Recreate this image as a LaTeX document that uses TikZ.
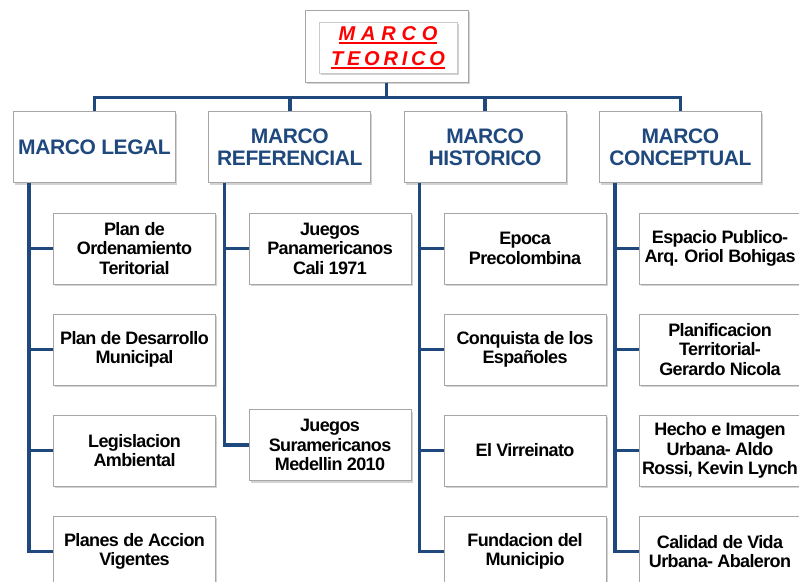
\documentclass[tikz,border=0pt]{standalone}
\usepackage{fontspec}
\setmainfont{Liberation Sans}
\newfontfamily\tightsans[LetterSpace=-2.0]{Liberation Sans}
\newfontfamily\tightersans[LetterSpace=-3.5]{Liberation Sans}
\newfontfamily\widesans[LetterSpace=19.0]{Liberation Sans}
\newfontfamily\widersans[LetterSpace=29.0]{Liberation Sans}
\usetikzlibrary{positioning,shadows}
\definecolor{lineblue}{RGB}{31,73,125}
\definecolor{boxgray}{RGB}{166,166,166}
\newcommand\redline[1]{\leavevmode\vtop{\hbox{#1}\kern1.5pt\hrule height 2pt}}

\begin{document}
\begin{tikzpicture}[x=1pt, y=-1pt, node distance=195.3pt]
\tikzstyle{boxshadow}=[drop shadow={shadow xshift=1.5pt, shadow yshift=-2pt, opacity=0.35}]
\tikzstyle{boxframe}=[draw=boxgray, fill=white, line width=1pt, boxshadow, inner sep=0pt]
\tikzstyle{catbox}=[boxframe, minimum width=162pt, minimum height=71pt, align=center, text=lineblue, font=\tightsans\bfseries\fontsize{21}{22}\selectfont]
\tikzstyle{subbox}=[boxframe, minimum width=162pt, minimum height=71pt, align=center, font=\tightersans\bfseries\fontsize{18}{19.5}\selectfont]
\tikzstyle{link}=[draw=lineblue, line width=3.5pt]
\useasboundingbox (0,0) rectangle (799,581);

\node[boxframe, minimum width=163pt, minimum height=72pt] (T) at (386.5,46) {};
\node[boxframe, draw=boxgray!60, minimum width=138pt, minimum height=51pt, align=center, text=red, font=\bfseries\itshape\fontsize{20}{25}\selectfont] (TT) at (388,47.5) {\widersans\redline{MARCO}\\\widesans\redline{TEORICO}};

\node[catbox] (L) at (94.5,147) {MARCO LEGAL};
\node[catbox] (R)[right of=L] {MARCO\\REFERENCIAL};
\node[catbox] (H)[right of=R] {MARCO\\HISTORICO};
\node[catbox] (C)[right of=H] {MARCO\\CONCEPTUAL};

\begin{scope}[node distance=101pt]
\node[subbox] (L1) at (134.5,248.5) {Plan de\\Ordenamiento\\Teritorial};
\node[subbox] (L2)[below of=L1] {Plan de Desarrollo\\Municipal};
\node[subbox] (L3)[below of=L2] {Legislacion\\Ambiental};
\node[subbox] (L4)[below of=L3] {Planes de Accion\\Vigentes};
\node[subbox] (R1) at (330,248.5) {Juegos\\Panamericanos\\Cali 1971};
\node[subbox] (R2) at (330,445) {Juegos\\Suramericanos\\Medellin 2010};
\node[subbox] (H1) at (525,248.5) {Epoca\\Precolombina};
\node[subbox] (H2)[below of=H1] {Conquista de los\\Españoles};
\node[subbox] (H3)[below of=H2] {El Virreinato};
\node[subbox] (H4)[below of=H3] {Fundacion del\\Municipio};
\node[subbox] (C1) at (720,248.5) {Espacio Publico-\\Arq. Oriol Bohigas};
\node[subbox] (C2)[below of=C1] {Planificacion\\Territorial-\\Gerardo Nicola};
\node[subbox] (C3)[below of=C2] {Hecho e Imagen\\Urbana- Aldo\\Rossi, Kevin Lynch};
\node[subbox] (C4)[below of=C3] {Calidad de Vida\\Urbana- Abaleron};
\end{scope}

\draw[link] (T.south) -- ++(0,15) -| (L.north);
\draw[link] (T.south) -- ++(0,15) -| (R.north);
\draw[link] (T.south) -- ++(0,15) -| (H.north);
\draw[link] (T.south) -- ++(0,15) -| (C.north);

\draw[link] ([xshift=16pt]L.south west) |- (L1.west);
\draw[link] ([xshift=16pt]L.south west) |- (L2.west);
\draw[link] ([xshift=16pt]L.south west) |- (L3.west);
\draw[link] ([xshift=16pt]L.south west) |- (L4.west);
\draw[link] ([xshift=16pt]R.south west) |- (R1.west);
\draw[link] ([xshift=16pt]R.south west) |- (R2.west);
\draw[link] ([xshift=16pt]H.south west) |- (H1.west);
\draw[link] ([xshift=16pt]H.south west) |- (H2.west);
\draw[link] ([xshift=16pt]H.south west) |- (H3.west);
\draw[link] ([xshift=16pt]H.south west) |- (H4.west);
\draw[link] ([xshift=16pt]C.south west) |- (C1.west);
\draw[link] ([xshift=16pt]C.south west) |- (C2.west);
\draw[link] ([xshift=16pt]C.south west) |- (C3.west);
\draw[link] ([xshift=16pt]C.south west) |- (C4.west);
\end{tikzpicture}
\end{document}
